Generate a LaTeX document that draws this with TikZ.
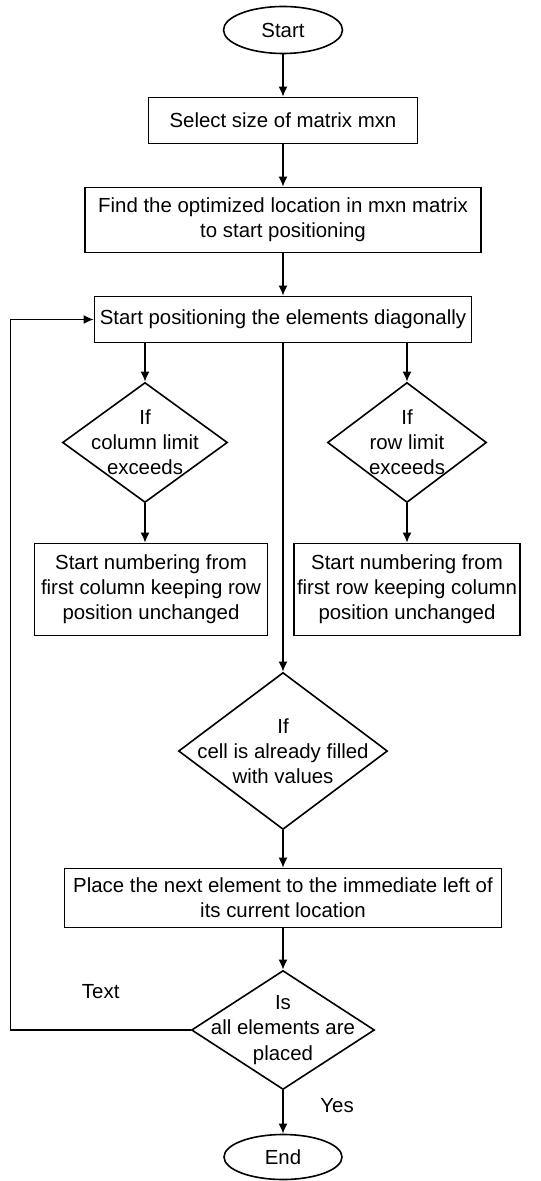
\documentclass[tikz,border=0pt]{standalone}
\usepackage{fontspec}
\setmainfont{Liberation Sans}
\usetikzlibrary{positioning,arrows.meta,shapes.geometric}

\begin{document}
\begin{tikzpicture}[
    node distance=21.2pt,
    every node/.style={font=\fontsize{10.2}{12.6}\selectfont},
    box/.style={draw, line width=0.8pt, align=center, inner sep=1pt},
    term/.style={box, ellipse, minimum width=59.5pt, minimum height=23.5pt},
    stepbox/.style={box, rectangle},
    decision/.style={box, diamond, aspect=1.5, inner xsep=-18pt, inner ysep=0pt},
    link/.style={line width=0.8pt, -{Latex[length=5pt,width=4.5pt]}}
]
\useasboundingbox (-141.5pt,15pt) rectangle (128.5pt,-575.5pt);

\node[term] (start) at (0,0) {Start};
\node[stepbox, below=of start, minimum width=134.5pt, minimum height=23pt] (size) {Select size of matrix mxn};
\node[stepbox, below=of size, minimum width=198pt, minimum height=32.5pt] (find) {Find the optimized location in mxn matrix\\to start positioning};
\node[stepbox, below=of find, minimum width=188.5pt, minimum height=23pt] (pos) {Start positioning the elements diagonally};

\node[decision, below=19.2pt of pos, xshift=-69pt, minimum width=82.5pt, minimum height=60pt] (colchk) {If\\column limit\\exceeds};
\node[decision, below=19.2pt of pos, xshift=62pt, minimum width=79.5pt, minimum height=60pt] (rowchk) {If\\row limit\\exceeds};

\node[stepbox, below=19.7pt of colchk, xshift=3pt, minimum width=116.5pt, minimum height=46pt] (colfix) {Start numbering from\\first column keeping row\\position unchanged};
\node[stepbox, below=19.7pt of rowchk, minimum width=113pt, minimum height=46pt] (rowfix) {Start numbering from\\first row keeping column\\position unchanged};

\node[decision, below=164.2pt of pos, minimum width=104.5pt, minimum height=78.5pt] (cellchk) {If\\cell is already filled\\with values};
\node[stepbox, below=18.7pt of cellchk, minimum width=218.5pt, minimum height=29.5pt] (place) {Place the next element to the immediate left of\\its current location};
\node[decision, below=20.7pt of place, minimum width=91.5pt, minimum height=59.5pt] (alldone) {Is\\all elements are\\placed};
\node[term, below=21.7pt of alldone, minimum width=59pt, minimum height=22.5pt] (done) {End};

\coordinate[left=41.5pt of pos.west] (back);

\draw[link] (start) -- (size);
\draw[link] (size) -- (find);
\draw[link] (find) -- (pos);
\draw[link] (pos.south -| colchk) -- (colchk);
\draw[link] (pos.south -| rowchk) -- (rowchk);
\draw[link] (colchk.south) -- (colchk.south |- colfix.north);
\draw[link] (rowchk) -- (rowfix);
\draw[link] (pos.south) -- (cellchk.north);
\draw[link] (cellchk) -- (place);
\draw[link] (place) -- (alldone);
\draw[link] (alldone) -- node[right=15pt, yshift=3pt] (yes) {Yes} (done);
\draw[link] (alldone.west) -| node[pos=0.25, above=12pt] (no) {Text} (back) -- (pos.west);
\end{tikzpicture}
\end{document}
